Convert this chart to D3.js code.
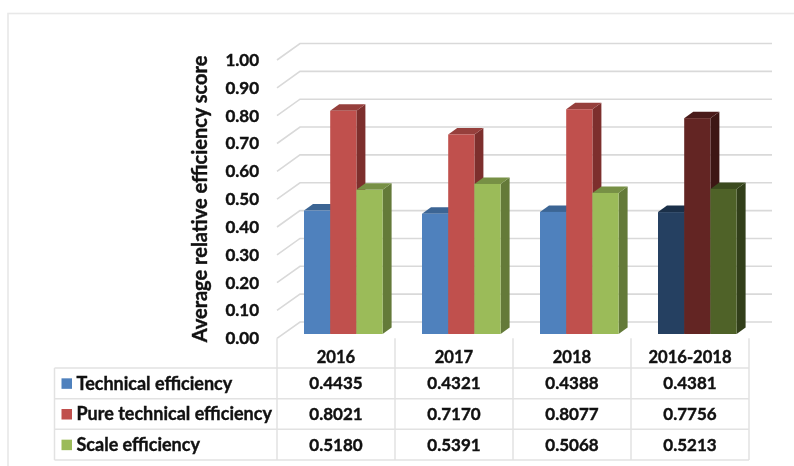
<!DOCTYPE html>
<html>
<head>
<meta charset="utf-8">
<script src="https://cdn.jsdelivr.net/npm/d3@7"></script>
<style>
body { margin: 0; background: #fff; }
svg { filter: blur(0.3px); }
text { font-family: Lato, "Open Sans", sans-serif; font-weight: 700; fill: #111; stroke: #111; stroke-width: 0.4px; }
</style>
</head>
<body>
<script>
var categories = ["2016", "2017", "2018", "2016-2018"];
var seriesNames = ["Technical efficiency", "Pure technical efficiency", "Scale efficiency"];
var technical = [0.4435, 0.4321, 0.4388, 0.4381];
var pure = [0.8021, 0.7170, 0.8077, 0.7756];
var scale = [0.5180, 0.5391, 0.5068, 0.5213];
var tableText = [
    ["0.4435", "0.4321", "0.4388", "0.4381"],
    ["0.8021", "0.7170", "0.8077", "0.7756"],
    ["0.5180", "0.5391", "0.5068", "0.5213"]
];
var yTicks = [0, 0.1, 0.2, 0.3, 0.4, 0.5, 0.6, 0.7, 0.8, 0.9, 1];
var allSeries = [technical, pure, scale];

var width = 794;
var height = 466;
var gridColor = "#d9d9d9";
var faces = [
    { front: "#4f81bd", top: "#3c6594", side: "#37608f" },
    { front: "#c0504d", top: "#963f3c", side: "#7d2f2d" },
    { front: "#9bbb59", top: "#779045", side: "#647a39" }
];
// last category is highlighted with darker bars
var darkFaces = [
    { front: "#254061", top: "#1b3049", side: "#182a40" },
    { front: "#632523", top: "#4a1b1a", side: "#3d1614" },
    { front: "#4f6228", top: "#3b4a1e", side: "#323f1a" }
];

var svg = d3.select("body").append("svg")
    .attr("width", width)
    .attr("height", height)
    .style("display", "block");

// outer chart frame
svg.append("rect")
    .attr("x", 8).attr("y", 13.5)
    .attr("width", width + 20).attr("height", height + 20)
    .attr("fill", "none").attr("stroke", "#e8e8e8").attr("stroke-width", 1.6);

var xScale = d3.scaleBand().domain(categories).range([277, 749]);
var yFront = d3.scaleLinear().domain([0, 1]).range([338.3, 60]);
var yBack = d3.scaleLinear().domain([0, 1]).range([322, 43.5]);
var yBar = d3.scaleLinear().domain([0, 1]).range([334, 55.7]);
var backDx = 23;
var barWidth = 26.2;
var barInset = 27;
var depthX = 9;
var depthY = 6.5;

// grid lines on the floor and back wall
var grid = svg.append("g").selectAll("g").data(yTicks).enter().append("g");
grid.append("path")
    .attr("fill", "none").attr("stroke", gridColor).attr("stroke-width", 1.6)
    .attr("d", function(d) {
        return "M277," + yFront(d) + "L" + (277 + backDx) + "," + yBack(d) + "H772";
    });

// y tick labels
svg.append("g").selectAll("text").data(yTicks).enter().append("text")
    .attr("x", 259)
    .attr("y", function(d) { return yFront(d); })
    .attr("dy", "0.35em")
    .attr("text-anchor", "end")
    .attr("font-size", "17px")
    .text(function(d) { return d3.format(".2f")(d); });

svg.append("text")
    .attr("transform", "translate(207,199) rotate(-90)")
    .attr("text-anchor", "middle")
    .attr("font-size", "20px")
    .text("Average relative efficiency score");

// bars, back to front by series so neighbours overlap like the original
var bars = svg.append("g");
categories.forEach(function(cat, c) {
    allSeries.forEach(function(values, s) {
        var face = c === 3 ? darkFaces[s] : faces[s];
        var x0 = xScale(cat) + barInset + s * barWidth;
        var x1 = x0 + barWidth;
        var y0 = yBar(0);
        var y1 = yBar(values[c]);
        bars.append("path").attr("fill", face.side)
            .attr("d", "M" + x1 + "," + y1 + "l" + depthX + "," + (-depthY) +
                "V" + (y0 - depthY) + "l" + (-depthX) + "," + depthY + "Z");
        bars.append("path").attr("fill", face.top)
            .attr("d", "M" + x0 + "," + y1 + "l" + depthX + "," + (-depthY) +
                "H" + (x1 + depthX) + "l" + (-depthX) + "," + depthY + "Z");
        bars.append("rect").attr("fill", face.front)
            .attr("x", x0).attr("y", y1)
            .attr("width", barWidth).attr("height", y0 - y1);
    });
});

// data table
var rowY = d3.scalePoint().domain([0, 1, 2, 3]).range([368, 460]);
var tableLeft = 54.5;
var table = svg.append("g")
    .attr("stroke", "#e2e2e2").attr("stroke-width", 1.5).attr("fill", "none");
rowY.domain().forEach(function(r) {
    table.append("line")
        .attr("x1", tableLeft).attr("x2", 749)
        .attr("y1", rowY(r)).attr("y2", rowY(r));
});
table.append("line")
    .attr("x1", tableLeft).attr("x2", tableLeft)
    .attr("y1", 368).attr("y2", 460);
xScale.domain().concat("end").forEach(function(cat) {
    var x = cat === "end" ? 749 : xScale(cat);
    table.append("line")
        .attr("x1", x).attr("x2", x)
        .attr("y1", yFront(0)).attr("y2", 460);
});

svg.append("g").selectAll("text").data(categories).enter().append("text")
    .attr("x", function(d) { return xScale(d) + xScale.bandwidth() / 2; })
    .attr("y", 357)
    .attr("dy", "0.35em")
    .attr("text-anchor", "middle")
    .attr("font-size", "16.6px")
    .text(function(d) { return d; });

seriesNames.forEach(function(name, s) {
    var cy = (rowY(s) + rowY(s + 1)) / 2;
    svg.append("rect")
        .attr("x", 61.5).attr("y", cy - 5)
        .attr("width", 10.5).attr("height", 10.5)
        .attr("fill", faces[s].front);
    svg.append("text")
        .attr("x", 76.5).attr("y", cy)
        .attr("dy", "0.35em")
        .attr("font-size", "18px")
        .text(name);
    categories.forEach(function(cat, c) {
        svg.append("text")
            .attr("x", xScale(cat) + xScale.bandwidth() / 2)
            .attr("y", cy)
            .attr("dy", "0.35em")
            .attr("text-anchor", "middle")
            .attr("font-size", "17px")
            .text(tableText[s][c]);
    });
});
</script>
</body>
</html>
